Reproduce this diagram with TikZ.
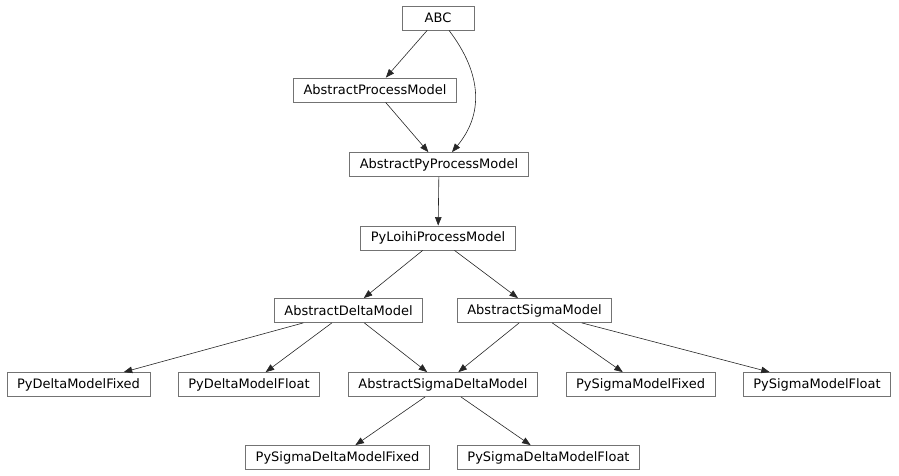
\documentclass[tikz,border=0pt]{standalone}
\usepackage{fontspec}
\setmainfont{DejaVu Sans}
\usetikzlibrary{arrows.meta}
\begin{document}
\begin{tikzpicture}[x=1pt,y=-1pt]

\tikzset{clase/.style={rectangle,minimum width=72pt,minimum height=24pt,inner xsep=10pt,inner ysep=0pt,draw=black!55,line width=0.8pt,text=black,font=\fontsize{13}{15}\selectfont}}
\tikzset{flecha/.style={-{Triangle[length=8.5pt,width=6.5pt]},line width=0.6pt,black!85}}

\useasboundingbox (0,0) rectangle (899,476);

\draw (438,18) node[clase](abc) {ABC};
\draw (375,90) node[clase](apm) {AbstractProcessModel};
\draw (439,164.5) node[clase](appm) {AbstractPyProcessModel};
\draw (438,238) node[clase](ploihi) {PyLoihiProcessModel};
\draw (348.5,310.5) node[clase](adelta) {AbstractDeltaModel};
\draw (534.5,310.5) node[clase](asigma) {AbstractSigmaModel};
\draw (78.5,384.5) node[clase](pdfix) {PyDeltaModelFixed};
\draw (249,384.5) node[clase](pdflo) {PyDeltaModelFloat};
\draw (443,384.5) node[clase](asd) {AbstractSigmaDeltaModel};
\draw (640.5,384.5) node[clase](psfix) {PySigmaModelFixed};
\draw (817,384.5) node[clase](psflo) {PySigmaModelFloat};
\draw (337.5,457.5) node[clase](psdfix) {PySigmaDeltaModelFixed};
\draw (548.5,457.5) node[clase](psdflo) {PySigmaDeltaModelFloat};

\draw[flecha] (abc) -- (apm);
\draw[flecha] ([xshift=11pt]abc.south) .. controls (483,75) and (483,115) .. ([xshift=13pt]appm.north);
\draw[flecha] (apm) -- (appm);
\draw[flecha] (appm) -- (ploihi);
\draw[flecha] (ploihi) -- (adelta);
\draw[flecha] (ploihi) -- (asigma);
\draw[flecha] (adelta) -- (pdfix);
\draw[flecha] (adelta) -- (pdflo);
\draw[flecha] (adelta) -- (asd);
\draw[flecha] (asigma) -- (asd);
\draw[flecha] (asigma) -- (psfix);
\draw[flecha] (asigma) -- (psflo);
\draw[flecha] (asd) -- (psdfix);
\draw[flecha] (asd) -- (psdflo);

\end{tikzpicture}
\end{document}
